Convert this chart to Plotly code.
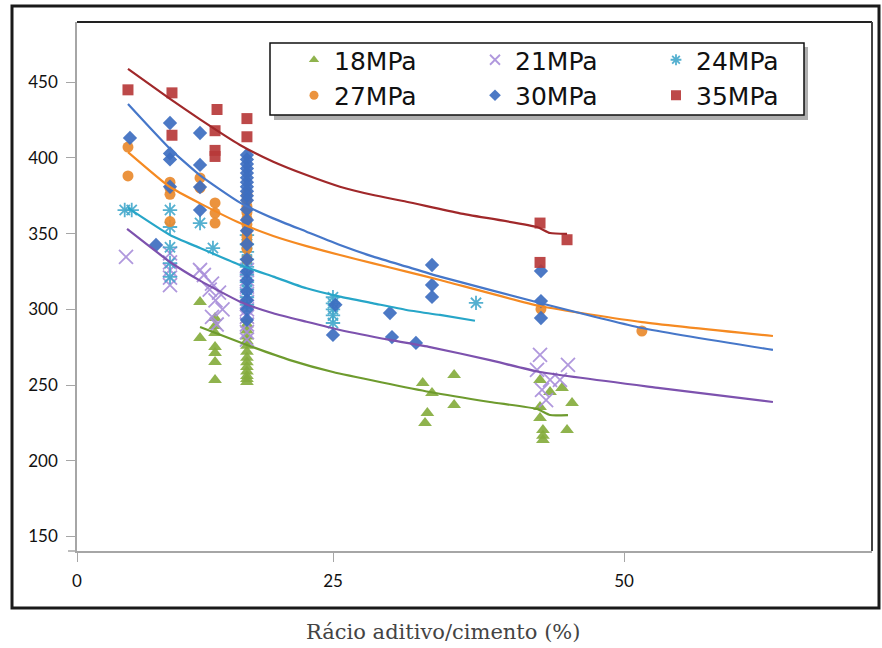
import plotly.graph_objects as go

# ---------------- data ----------------
X_TICK_POS = [3.0, 25, 50]
X_TICK_TEXT = ["0", "25", "50"]
Y_TICKS = [150, 200, 250, 300, 350, 400, 450]

# 18MPa
x18 = [13.57, 13.57, 14.86, 14.86, 14.86, 14.86, 14.86, 14.86, 14.86,
       17.6, 17.6, 17.6, 17.6, 17.6, 17.6, 17.6, 17.6, 17.6, 17.6, 17.6, 17.6, 17.6, 17.6,
       32.7, 33.5, 33.1, 32.9, 35.4, 35.4,
       42.78, 43.64, 44.67, 45.53, 42.78, 42.78, 43.03, 43.03, 45.1, 43.03]
y18 = [304.9, 281.1, 294.3, 289.0, 284.4, 275.1, 271.2, 265.2, 253.4,
       293, 290, 286, 282, 279, 276, 272, 268, 265, 262, 259, 256, 254, 252,
       251.3, 244.8, 231.6, 225.0, 256.6, 236.8,
       253.4, 245.4, 248.0, 238.1, 235.5, 228.2, 220.3, 213.7, 220.3, 216.5]

# 21MPa
x21 = [7.21, 10.99, 10.99, 10.99, 10.99, 10.99, 13.57, 13.9,
       14.6, 15.2, 14.9, 15.5, 14.6, 15.0, 14.4,
       17.6, 17.6, 17.6, 17.6, 17.6, 17.6, 17.6, 17.6, 17.6, 17.6,
       42.78, 42.52, 43.64, 45.18, 44.49, 42.95, 43.3]
y21 = [334.6, 337, 331, 326, 321, 316, 326.0, 322.7,
       317, 311, 306, 300, 295, 290, 313,
       326, 320, 315, 310, 305, 300, 295, 290, 285, 280,
       269.9, 260.0, 253.4, 263.3, 253.4, 246.8, 240.0]

# 24MPa
x24 = [7.1, 7.7, 10.99, 10.99, 10.99, 10.99, 10.99, 13.57, 14.68,
       17.6, 17.6, 17.6, 17.6, 17.6, 17.6, 17.6, 17.6, 17.6, 17.6,
       24.99, 24.99, 24.99, 24.99, 24.99, 37.28]
y24 = [365.6, 365.6, 365.6, 354.4, 341.0, 330.6, 321.4, 357.0, 340.5,
       349, 343, 338, 333, 328, 323, 318, 313, 308, 303,
       308, 304, 300, 296, 291, 304.3]

# 27MPa
x27 = [7.38, 7.38, 10.99, 10.99, 10.99, 10.99, 13.57, 13.57, 14.86, 14.86, 14.86,
       17.6, 17.6, 17.6, 17.6, 17.6, 17.6, 17.6, 17.6, 17.6, 17.6, 17.6,
       42.86, 51.53]
y27 = [407.2, 388.1, 384, 380, 376, 358, 386.8, 380.2, 370.3, 363.6, 357.0,
       376, 372, 368, 364, 360, 356, 352, 348, 344, 340, 333,
       300.2, 285.7]

# 30MPa
x30 = [7.55, 9.79, 10.99, 10.99, 10.99, 10.99, 13.57, 13.57, 13.57, 13.57,
       17.6, 17.6, 17.6, 17.6, 17.6, 17.6, 17.6, 17.6, 17.6, 17.6, 17.6,
       17.6, 17.6, 17.6, 17.6, 17.6, 17.6, 17.6, 17.6, 17.6, 17.6, 17.6,
       24.99, 25.2, 29.89, 30.06, 32.12, 33.5, 33.5, 33.5,
       42.86, 42.86, 42.86]
y30 = [413.2, 342.5, 423.1, 403, 399, 381, 416.5, 395.4, 380.8, 365.6,
       402, 399, 396, 393, 390, 387, 384, 381, 378, 375, 372,
       366, 359, 352, 343, 333, 325, 319, 312, 306, 300, 293,
       283.1, 303, 297.6, 281.7, 277.8, 329.3, 316.1, 308.2,
       325.3, 305.5, 294.3]

# 35MPa
x35 = [7.38, 11.16, 11.16, 15.03, 14.86, 14.86, 14.86, 17.6, 17.6, 42.78, 42.78, 45.1]
y35 = [445, 443, 415, 432, 418, 405, 401, 426, 414, 357, 331, 346]

# trend lines
fx18 = [13.57, 17.6, 21.3, 24.99, 33.33, 38.48, 42.52, 43.64, 45.18]
fy18 = [288.3, 276.5, 266.5, 258.6, 245.4, 238.8, 234.2, 230.2, 230.2]
fx21 = [7.3, 10.99, 13.57, 17.0, 19.86, 22.72, 25.59, 29.89, 33.33, 38.48, 42.78, 53.09, 62.79]
fy21 = [353.1, 331.3, 319.0, 305.1, 297.4, 291.8, 286.4, 279.8, 275.1, 266.5, 258.6, 248.0, 238.8]
fx24 = [7.38, 10.99, 13.57, 17.0, 19.86, 22.72, 25.59, 28.45, 31.31, 34.18, 37.19]
fy24 = [367.0, 349.1, 340.5, 329.3, 321.6, 313.9, 308.4, 304.0, 299.6, 296.3, 292.5]
fx27 = [7.38, 10.99, 13.57, 17.0, 19.86, 22.72, 25.59, 28.45, 31.31, 34.18, 42.78, 51.53, 62.79]
fy27 = [403.9, 380.8, 370.0, 357.0, 348.5, 341.8, 335.9, 330.4, 324.9, 319.4, 302.2, 291.6, 282.4]
fx30 = [7.38, 10.99, 13.57, 17.0, 19.86, 22.72, 25.59, 28.45, 31.31, 34.18, 42.78, 51.53, 62.79]
fy30 = [435.6, 406.0, 388.5, 370.5, 360.1, 351.3, 342.5, 334.8, 328.2, 321.6, 304.2, 287.7, 273.2]
fx35 = [7.38, 10.99, 13.57, 17.0, 19.86, 22.72, 25.59, 28.45, 31.31, 35.9, 42.52, 43.64, 45.1]
fy35 = [458.8, 439.0, 425.5, 408.6, 397.5, 388.7, 381.0, 375.5, 371.1, 363.4, 354.4, 350.4, 349.8]

NAMES = ["18MPa", "21MPa", "24MPa", "27MPa", "30MPa", "35MPa"]

# ---------------- styling ----------------
PL, PR, PT, PB = 77, 10, 22, 97
W, H = 882, 648
PW, PH = W - PL - PR, H - PT - PB


def px(xp):
    return (xp - PL) / PW


def py(yp):
    return (H - PB - yp) / PH


fig = go.Figure()

series = [
    (x18, y18, fx18, fy18, "triangle-up", "#86AD3E", "#6E9B2E", 12, 9, "a"),
    (x21, y21, fx21, fy21, "x-thin-open", "#A98FDA", "#7D52AE", 14, 10, "b"),
    (x24, y24, fx24, fy24, "asterisk-open", "#45A9CC", "#27A6C8", 12, 9, "c"),
    (x27, y27, fx27, fy27, "circle", "#E98A2E", "#F58A22", 11, 9, "a"),
    (x30, y30, fx30, fy30, "diamond", "#3D6EC0", "#4677C9", 11, 9, "b"),
    (x35, y35, fx35, fy35, "square", "#B73A3A", "#A0282A", 11, 10, "c"),
]


def mk(sym, col, size):
    m = dict(symbol=sym, size=size, color=col, opacity=0.92)
    if sym.endswith("-open"):
        m["line"] = dict(color=col, width=1.8)
    return m


for (xs, ys, fxs, fys, sym, mcol, lcol, size, lsize, grp), name in zip(series, NAMES):
    fig.add_trace(go.Scatter(x=xs, y=ys, mode="markers", name=name, marker=mk(sym, mcol, size),
                             showlegend=False, hoverinfo="x+y"))

for (xs, ys, fxs, fys, sym, mcol, lcol, size, lsize, grp), name in zip(series, NAMES):
    fig.add_trace(go.Scatter(x=fxs, y=fys, mode="lines",
                             line=dict(color=lcol, width=2.2, shape="spline", smoothing=0.5),
                             showlegend=False, hoverinfo="skip"))

# legend entries (smaller symbols, as in the reference legend)
for (xs, ys, fxs, fys, sym, mcol, lcol, size, lsize, grp), name in zip(series, NAMES):
    fig.add_trace(go.Scatter(x=[None], y=[None], mode="markers", name=name,
                             marker=mk(sym, mcol, lsize), legendgroup=grp, showlegend=True))

shapes = [
    # outer frame
    dict(type="rect", xref="paper", yref="paper", x0=px(12), x1=px(879), y0=py(608), y1=py(6),
         line=dict(color="#1a1a1a", width=3), layer="below"),
    # plot area top/right border
    dict(type="line", xref="paper", yref="paper", x0=0, x1=1, y0=1, y1=1,
         line=dict(color="#222222", width=2)),
    dict(type="line", xref="paper", yref="paper", x0=1, x1=1, y0=0, y1=1,
         line=dict(color="#444444", width=2)),
    # small stub of the x axis line left of the y axis
    dict(type="line", xref="paper", yref="paper", x0=px(68), x1=0, y0=0, y1=0,
         line=dict(color="#A6A6A6", width=1.5)),
    # legend shadow + box
    dict(type="rect", xref="paper", yref="paper", x0=px(274), x1=px(808), y0=py(120), y1=py(47),
         fillcolor="rgba(110,110,110,0.55)", line=dict(width=0), layer="below"),
    dict(type="rect", xref="paper", yref="paper", x0=px(270), x1=px(804), y0=py(115), y1=py(43),
         fillcolor="white", line=dict(color="#111111", width=1.5), layer="below"),
]

fig.update_layout(
    width=W, height=H,
    margin=dict(l=PL, r=PR, t=PT, b=PB),
    paper_bgcolor="white", plot_bgcolor="white",
    font=dict(family="Lato, 'Open Sans', sans-serif", color="#222222"),
    shapes=shapes,
    showlegend=True,
    legend=dict(orientation="h", traceorder="grouped", x=px(294), y=py(37),
                xanchor="left", yanchor="top", bgcolor="rgba(0,0,0,0)", borderwidth=0,
                font=dict(size=25, family="DejaVu Sans, sans-serif", color="#111111"),
                entrywidth=136, itemwidth=30),
    annotations=[dict(text="Rácio aditivo/cimento (%)", xref="paper", yref="paper",
                      x=px(443), y=py(632), xanchor="center", yanchor="middle", showarrow=False,
                      font=dict(family="DejaVu Serif, serif", size=21, color="#444444"))],
)

fig.update_xaxes(range=[3.0, 71.3], tickvals=X_TICK_POS, ticktext=X_TICK_TEXT,
                 showgrid=False, zeroline=False, showline=True, linecolor="#A6A6A6", linewidth=1.5,
                 ticks="outside", ticklen=9, tickcolor="#A6A6A6", tickwidth=1.2,
                 tickfont=dict(size=17, color="#111111"), ticklabelstandoff=5)
fig.update_yaxes(range=[140.4, 489.8], tickvals=Y_TICKS,
                 showgrid=False, zeroline=False, showline=True, linecolor="#A6A6A6", linewidth=1.5,
                 ticks="outside", ticklen=9, tickcolor="#A6A6A6", tickwidth=1.2,
                 tickfont=dict(size=17, color="#111111"), ticklabelstandoff=5)

fig.write_html("out.html", config={"displayModeBar": False},
               post_script="document.body.style.margin='0';document.body.style.padding='0';"
                           "document.body.style.overflow='hidden';")
